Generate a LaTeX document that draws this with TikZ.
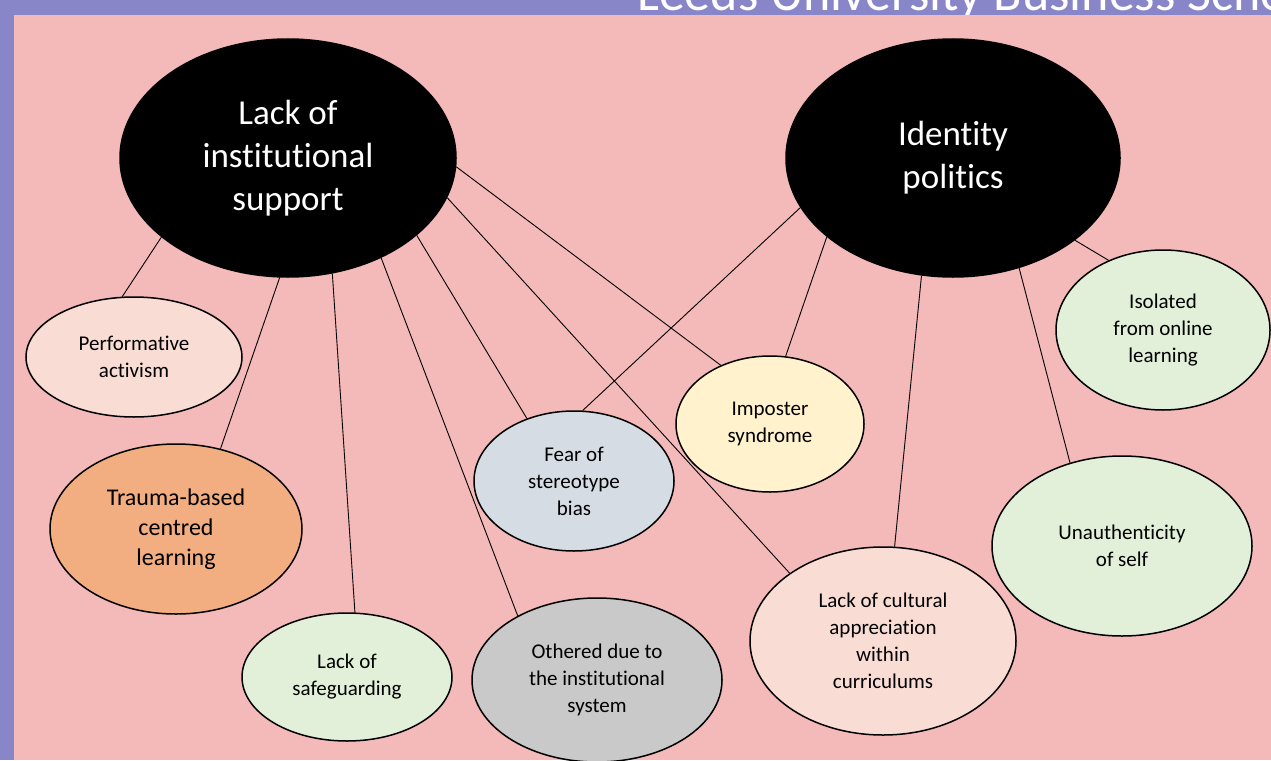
\documentclass[tikz,border=0pt]{standalone}
\usepackage{fontspec}
\setmainfont{Carlito}[Ligatures=NoCommon]
\usepackage{tikz}
\usetikzlibrary{shapes.geometric}

\definecolor{bandpurple}{RGB}{136,134,200}
\definecolor{bgpink}{RGB}{244,185,185}
\definecolor{peach}{RGB}{249,221,213}
\definecolor{orangefill}{RGB}{242,174,128}
\definecolor{greenfill}{RGB}{226,239,217}
\definecolor{grayfill}{RGB}{201,201,201}
\definecolor{bluegray}{RGB}{214,220,228}
\definecolor{creamfill}{RGB}{255,242,204}

\begin{document}
\begin{tikzpicture}[x=1pt, y=-1pt,
		bubble/.style={ellipse, draw, line width=1.5pt, inner sep=0pt, align=center, font=\fontsize{21}{27}\selectfont},
		theme/.style={bubble, fill=black, text=white, font=\fontsize{35}{43}\selectfont},
		link/.style={line width=0.9pt}]
		\useasboundingbox (0,0) rectangle (1271,760);
		\fill[bandpurple] (0,0) rectangle (1271,760);
		\node[anchor=base west, text=white, inner sep=0pt, font=\fontsize{52}{62}\selectfont] (title) at (637,11) {Leeds University Business School};
		\fill[bgpink] (14,15) rectangle (1271,760);
		% the two themes
		\node[theme, minimum width=336pt, minimum height=238pt] (lis) at (288,158) {Lack of\\institutional\\support};
		\node[theme, minimum width=334pt, minimum height=238pt] (idp) at (953,158) {Identity\\politics};
		% sub-themes
		\node[bubble, fill=peach, minimum width=216pt, minimum height=120pt] (perf) at (134,357) {Performative\\activism};
		\node[bubble, fill=orangefill, minimum width=252pt, minimum height=170pt, font=\fontsize{24}{30}\selectfont] (trauma) at (176,529) {Trauma-based\\centred\\learning};
		\node[bubble, fill=greenfill, minimum width=210pt, minimum height=128pt] (safe) at (347,677) {Lack of\\safeguarding};
		\node[bubble, fill=grayfill, minimum width=250pt, minimum height=164pt] (other) at (597,680) {Othered due to\\the institutional\\system};
		\node[bubble, fill=bluegray, minimum width=200pt, minimum height=140pt] (fear) at (574,481) {Fear of\\stereotype\\bias};
		\node[bubble, fill=creamfill, minimum width=188pt, minimum height=136pt] (imp) at (770,424) {Imposter\\syndrome};
		\node[bubble, fill=peach, minimum width=266pt, minimum height=188pt] (cult) at (883,641) {Lack of cultural\\appreciation\\within\\curriculums};
		\node[bubble, fill=greenfill, minimum width=260pt, minimum height=180pt] (unauth) at (1122,546) {Unauthenticity\\of self};
		\node[bubble, fill=greenfill, minimum width=214pt, minimum height=160pt] (iso) at (1163,330) {Isolated\\from online\\learning};
		% links from lack of institutional support
		\draw[link] (lis.-148) -- (perf.101);
		\draw[link] (lis.-94) -- (trauma.61);
		\draw[link] (lis.-69) -- (safe.83);
		\draw[link] (lis.-47) -- (other.141);
		\draw[link] (lis.-31) -- (fear.127);
		\draw[link] (lis.-14) -- (cult.144);
		\draw[link] (lis.-3) -- (imp.130);
		% links from identity politics
		\draw[link] (idp.198) -- (fear.83);
		\draw[link] (idp.212) -- (imp.77);
		\draw[link] (idp.255) -- (cult.83);
		\draw[link] (idp.-59) -- (unauth.122);
		\draw[link] (idp.-34) -- (iso.128);
	\end{tikzpicture}
\end{document}
